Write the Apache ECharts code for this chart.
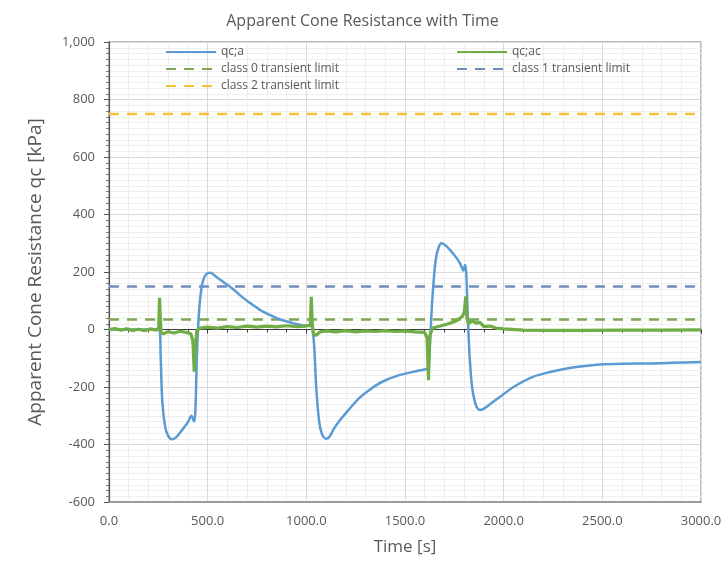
<!DOCTYPE html>
<html><head><meta charset="utf-8">
<script src="https://cdn.jsdelivr.net/npm/echarts@6/dist/echarts.min.js"></script>
<style>html,body{margin:0;padding:0;background:#fff}#c{width:725px;height:566px}</style>
</head><body><div id="c"></div>
<script>
const title = 'Apparent Cone Resistance with Time';
const xName = 'Time [s]';
const yName = 'Apparent Cone Resistance qc [kPa]';
const seriesNames = ['qc;a', 'qc;ac', 'class 0 transient limit', 'class 1 transient limit', 'class 2 transient limit'];

const qcaTime = [0,100,200,255,262,270,285,300,318,340,370,400,418,425,432,438,445,455,470,490,515,540,580,630,680,730,780,833,880,933,980,1020,1030,1040,1050,1065,1080,1100,1115,1140,1171,1220,1272,1330,1390,1475,1576,1615,1622,1630,1640,1655,1670,1686,1710,1728,1760,1779,1796,1804,1810,1818,1828,1840,1860,1880,1900,1940,1982,2050,2151,2235,2320,2400,2488,2600,2742,2850,3000];
const qcaVal  = [0,0,0,0,-100,-250,-340,-370,-382,-375,-350,-322,-300,-310,-320,-280,-100,50,150,190,197,185,165,140,110,85,62,45,32,22,15,12,8,-60,-200,-320,-365,-380,-375,-345,-315,-275,-236,-205,-180,-158,-142,-135,-100,0,120,240,285,300,290,277,250,230,205,224,200,50,-100,-200,-265,-280,-275,-255,-234,-200,-164,-148,-136,-128,-122,-119,-118,-116,-113];

const qcacTime = [0,30,60,90,120,150,180,210,240,252,256,260,264,275,300,330,360,390,415,425,432,438,445,460,500,550,600,650,700,750,800,850,900,950,1000,1020,1025,1030,1036,1050,1070,1100,1150,1200,1250,1300,1350,1400,1450,1500,1550,1600,1612,1619,1626,1640,1680,1720,1760,1790,1800,1808,1814,1822,1840,1860,1880,1900,1930,1960,2000,2100,2200,2400,2600,2800,3000];
const qcacVal  = [0,3,-2,2,-3,1,-4,2,-2,5,110,40,-10,-15,-8,-12,-6,-10,-15,-40,-147,-60,-5,5,8,5,10,7,12,8,12,9,13,10,12,15,114,20,-15,-20,-8,-5,-8,-4,-8,-5,-7,-4,-7,-5,-8,-10,-30,-176,-20,5,12,20,30,45,60,115,40,20,30,22,25,10,12,5,2,-2,-3,-3,-2,-2,-1];

const limitTime = [0, 3000];
const class0 = [35, 35];
const class1 = [150, 150];
const class2 = [750, 750];

const xTicks = [0, 500, 1000, 1500, 2000, 2500, 3000];
const yTicks = [-600, -400, -200, 0, 200, 400, 600, 800, 1000];

const pairs = (t, v) => t.map((x, i) => [x, v[i]]);
const txt = '#595959';
const font = '"Open Sans", "Noto Sans", sans-serif';
const legendCommon = {orient: 'vertical', top: 41, itemWidth: 50, itemHeight: 10, itemGap: 5,
  itemStyle: {opacity: 0}, textStyle: {fontSize: 12, color: txt, fontFamily: font}};

const chart = echarts.init(document.getElementById('c'), null, {renderer: 'canvas'});
chart.setOption({
  animation: false,
  backgroundColor: '#fff',
  textStyle: {fontFamily: font},
  title: {text: title, left: 'center', top: 8, textStyle: {fontSize: 16, fontWeight: 'normal', color: txt, fontFamily: font}},
  legend: [
    Object.assign({data: [seriesNames[0], seriesNames[2], seriesNames[4]], left: 160}, legendCommon),
    Object.assign({data: [seriesNames[1], seriesNames[3]], left: 451}, legendCommon)
  ],
  grid: {left: 109, right: 24, top: 42, bottom: 64, show: true, borderColor: '#a6a6a6', borderWidth: 1.5},
  xAxis: [{
    type: 'value', min: xTicks[0], max: xTicks[xTicks.length - 1], interval: 500,
    name: xName, nameLocation: 'middle', nameGap: 37, nameTextStyle: {fontSize: 17, color: txt, fontFamily: font},
    axisLine: {onZero: false, lineStyle: {color: '#8c8c8c', width: 1.5}},
    axisTick: {show: false},
    axisLabel: {color: txt, fontSize: 13, margin: 13, formatter: v => v.toFixed(1)},
    splitLine: {show: true, lineStyle: {color: '#dadada', width: 1}},
    minorTick: {show: false, splitNumber: 5},
    minorSplitLine: {show: true, lineStyle: {color: '#efefef', width: 1}}
  }, {
    type: 'value', min: xTicks[0], max: xTicks[xTicks.length - 1], interval: 500, position: 'bottom',
    axisLine: {onZero: true, lineStyle: {color: '#3a3a3a', width: 1}},
    axisTick: {show: true, length: 4, inside: false, lineStyle: {color: '#3a3a3a'}},
    minorTick: {show: true, splitNumber: 5, length: 3, lineStyle: {color: '#3a3a3a'}},
    axisLabel: {show: false}, splitLine: {show: false}
  }],
  yAxis: {
    type: 'value', min: yTicks[0], max: yTicks[yTicks.length - 1], interval: 200,
    name: yName, nameLocation: 'middle', nameGap: 64, nameTextStyle: {fontSize: 19, color: txt, fontFamily: font},
    axisLine: {show: true, onZero: false, lineStyle: {color: '#555', width: 1.2}},
    axisTick: {show: true, length: 5, lineStyle: {color: '#555'}},
    minorTick: {show: true, splitNumber: 10, length: 3, lineStyle: {color: '#777'}},
    axisLabel: {color: txt, fontSize: 13, margin: 14, formatter: v => v.toLocaleString('en-US')},
    splitLine: {show: true, lineStyle: {color: '#dadada', width: 1}},
    minorSplitLine: {show: true, lineStyle: {color: '#efefef', width: 1}}
  },
  series: [
    {name: seriesNames[2], type: 'line', data: pairs(limitTime, class0), symbol: 'none', lineStyle: {color: '#7fa653', width: 2.5, type: [10, 8]}, itemStyle: {color: '#7fa653'}, z: 2},
    {name: seriesNames[3], type: 'line', data: pairs(limitTime, class1), symbol: 'none', lineStyle: {color: '#6f8cbd', width: 2.5, type: [10, 8]}, itemStyle: {color: '#6f8cbd'}, z: 2},
    {name: seriesNames[4], type: 'line', data: pairs(limitTime, class2), symbol: 'none', lineStyle: {color: '#f7c036', width: 2.5, type: [10, 8]}, itemStyle: {color: '#f7c036'}, z: 2},
    {name: seriesNames[0], type: 'line', data: pairs(qcaTime, qcaVal), symbol: 'none', smooth: 0.3, lineStyle: {color: '#5b9bd5', width: 2.5}, itemStyle: {color: '#5b9bd5'}, z: 3},
    {name: seriesNames[1], type: 'line', data: pairs(qcacTime, qcacVal), symbol: 'none', lineStyle: {color: '#70ad47', width: 3.2}, itemStyle: {color: '#70ad47'}, z: 4}
  ]
});
</script></body></html>
